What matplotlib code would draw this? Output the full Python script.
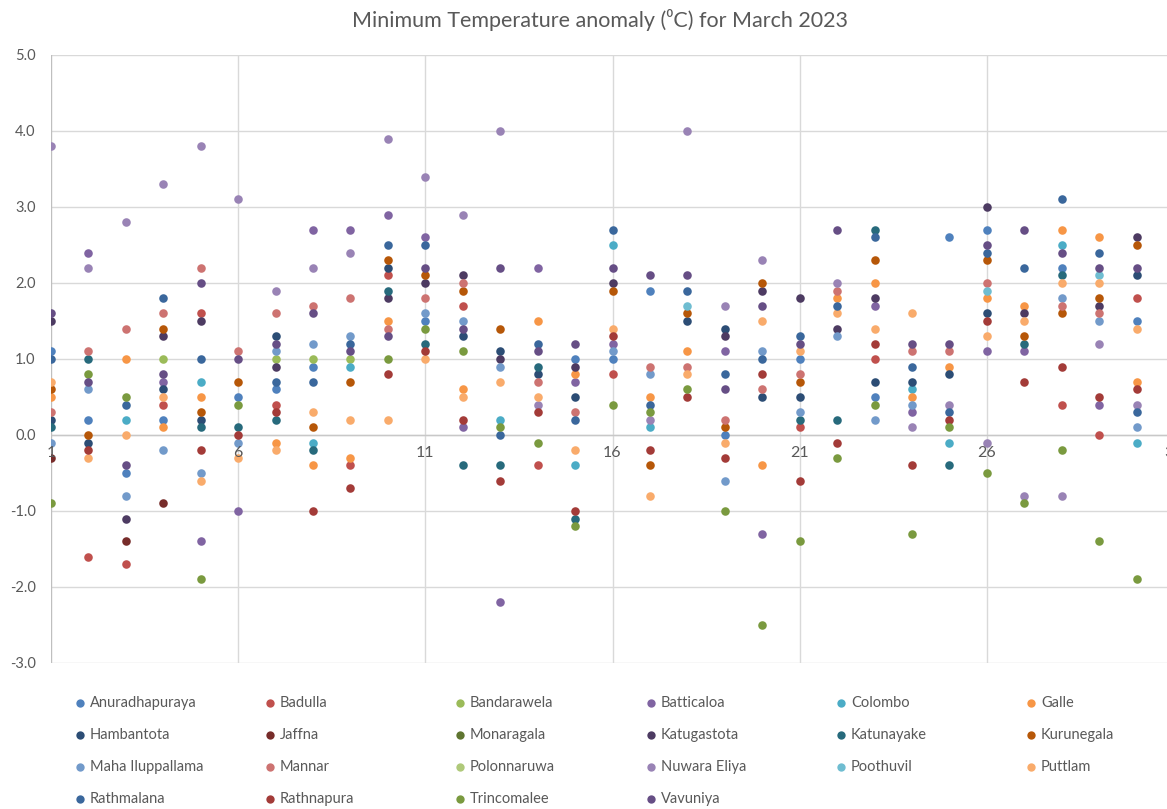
import numpy as np
import matplotlib.pyplot as plt
from matplotlib.lines import Line2D

plt.rcParams['font.family'] = ['Lato', 'DejaVu Sans']

nan = np.nan
days = np.arange(1, 31)

# anomaly (deg C) per station, days 1..30 of March 2023 (nan = hidden / not read)
anuradhapuraya = [1.1, 0.2, -0.5, 0.2, nan, 0.5, 0.6, 0.9, nan, nan, 1.5, nan, nan, nan, 1.0,
                  1.0, 1.9, nan, 0.0, nan, 1.0, nan, 0.5, nan, 2.6, 2.7, nan, 2.2, nan, 1.5]
badulla = [nan, -1.6, -1.7, 0.4, 1.6, nan, 0.4, nan, -0.4, 2.1, nan, 1.7, nan, -0.4, nan,
           0.8, nan, nan, nan, nan, 0.1, nan, 1.0, nan, nan, nan, nan, 0.4, 0.0, 1.8]
bandarawela = [nan, nan, nan, 1.0, nan, nan, 1.0, 1.0, 1.0, nan, nan, nan, nan, nan, nan,
               nan, nan, nan, nan, nan, nan, nan, nan, nan, nan, nan, nan, nan, nan, nan]
batticaloa = [nan, 2.4, nan, 0.7, -1.4, -1.0, nan, 2.7, 2.7, 2.9, 2.6, 0.1, -2.2, 2.2, 0.7,
              1.2, nan, nan, 1.1, -1.3, nan, nan, 1.7, 0.3, nan, 1.1, 1.1, nan, 0.4, nan]
colombo = [nan, nan, 0.2, nan, 0.7, nan, nan, -0.1, 0.9, nan, nan, nan, 0.2, nan, -0.4,
           2.5, 0.1, nan, nan, nan, nan, nan, nan, 0.6, -0.1, nan, nan, 2.5, nan, -0.1]
galle = [0.5, nan, 1.0, 0.1, 0.5, nan, -0.1, -0.4, -0.3, 1.5, nan, 0.6, nan, 1.5, 0.8,
         nan, 0.5, 1.1, nan, -0.4, nan, 1.8, 2.0, 0.5, 0.9, 1.8, 1.7, 2.7, 2.6, 0.7]
hambantota = [0.2, -0.1, nan, 0.6, 0.2, nan, 1.3, nan, nan, 2.2, nan, 1.3, 1.1, 0.8, 0.5,
              nan, nan, 1.5, 1.4, 0.5, 0.5, nan, 0.7, 0.7, 0.8, 1.6, nan, nan, nan, 2.1]
jaffna = [-0.3, nan, -1.4, -0.9, nan, nan, nan, nan, nan, nan, nan, nan, nan, nan, nan,
          nan, nan, nan, nan, nan, nan, nan, nan, nan, nan, nan, nan, nan, nan, nan]
monaragala = [nan] * 30
katugastota = [1.5, nan, -1.1, 1.3, 1.5, nan, 0.9, nan, nan, 1.8, 2.0, 2.1, 1.0, nan, 0.9,
               2.0, nan, nan, 1.3, 1.9, 1.8, 1.4, 1.8, nan, nan, 3.0, 1.6, nan, 1.7, 2.6]
katunayake = [0.1, 1.0, nan, nan, 0.1, 0.1, 0.2, -0.2, nan, 1.9, 1.2, -0.4, -0.4, 0.9, -1.1,
              nan, nan, nan, nan, nan, 0.2, 0.2, 2.7, nan, -0.4, nan, 1.2, 2.1, nan, nan]
kurunegala = [0.6, 0.0, nan, 1.4, 0.3, 0.7, nan, 0.1, 0.7, 2.3, 2.1, 1.9, 1.4, nan, nan,
              1.9, -0.4, 1.6, 0.1, 2.0, 0.7, nan, 2.3, nan, nan, 2.3, 1.3, 1.6, 1.8, 2.5]
maha_iluppallama = [-0.1, 0.6, -0.8, -0.2, -0.5, -0.1, 1.1, 1.2, 1.3, nan, 1.6, 1.5, 0.9, nan, nan,
                    1.1, 0.8, nan, -0.6, 1.1, 0.3, 1.3, 0.2, 0.4, nan, nan, nan, 1.8, 1.5, 0.1]
mannar = [0.3, 1.1, 1.4, 1.6, 2.2, 1.1, 1.6, 1.7, 1.8, 1.4, 1.8, 2.0, nan, 0.7, 0.3,
          nan, 0.9, 0.9, 0.2, 0.6, 0.8, 1.9, nan, 1.1, 1.1, 2.0, nan, 1.7, 1.6, nan]
polonnaruwa = [nan] * 30
nuwara_eliya = [3.8, 2.2, 2.8, 3.3, 3.8, 3.1, 1.9, 2.2, 2.4, 3.9, 3.4, 2.9, 4.0, 0.4, nan,
                nan, 0.2, 4.0, 1.7, 2.3, nan, 2.0, nan, 0.1, 0.4, -0.1, -0.8, -0.8, 1.2, 0.4]
poothuvil = [nan, nan, nan, nan, nan, nan, nan, nan, nan, nan, nan, nan, nan, nan, nan,
             nan, nan, 1.7, nan, nan, nan, nan, nan, nan, nan, 1.9, nan, nan, 2.1, nan]
puttlam = [0.7, -0.3, 0.0, 0.5, -0.6, -0.3, -0.2, 0.3, 0.2, 0.2, 1.0, 0.5, 0.7, 0.5, -0.2,
           1.4, -0.8, 0.8, -0.1, 1.5, 1.1, 1.6, 1.4, 1.6, nan, 1.3, 1.5, 2.0, 2.0, 1.4]
rathmalana = [1.0, nan, 0.4, 1.8, 1.0, nan, 0.7, 0.7, 1.2, 2.5, 2.5, nan, 0.0, 1.2, 0.2,
              2.7, 0.4, 1.9, 0.8, 1.0, 1.3, 1.7, 2.6, 0.9, 0.3, 2.4, 2.2, 3.1, 2.4, 0.3]
rathnapura = [nan, -0.2, nan, nan, -0.2, 0.0, 0.3, -1.0, -0.7, 0.8, 1.1, 0.2, -0.6, 0.3, -1.0,
              1.3, -0.2, 0.5, -0.3, 0.8, -0.6, -0.1, 1.2, -0.4, 0.2, 1.5, 0.7, 0.9, 0.5, 0.6]
trincomalee = [-0.9, 0.8, 0.5, nan, -1.9, 0.4, nan, nan, nan, 1.0, 1.4, 1.1, 0.1, -0.1, -1.2,
               0.4, 0.3, 0.6, -1.0, -2.5, -1.4, -0.3, 0.4, -1.3, 0.1, -0.5, -0.9, -0.2, -1.4, -1.9]
vavuniya = [1.6, 0.7, -0.4, 0.8, 2.0, 1.0, 1.2, 1.6, 1.1, 1.3, 2.2, 1.4, 2.2, 1.1, 1.2,
            2.2, 2.1, 2.1, 0.6, 1.7, 1.2, 2.7, nan, 1.2, 1.2, 2.5, 2.7, 2.4, 2.2, 2.2]

stations = ["Anuradhapuraya", "Badulla", "Bandarawela", "Batticaloa", "Colombo", "Galle",
            "Hambantota", "Jaffna", "Monaragala", "Katugastota", "Katunayake", "Kurunegala",
            "Maha Iluppallama", "Mannar", "Polonnaruwa", "Nuwara Eliya", "Poothuvil", "Puttlam",
            "Rathmalana", "Rathnapura", "Trincomalee", "Vavuniya"]
series = [anuradhapuraya, badulla, bandarawela, batticaloa, colombo, galle,
          hambantota, jaffna, monaragala, katugastota, katunayake, kurunegala,
          maha_iluppallama, mannar, polonnaruwa, nuwara_eliya, poothuvil, puttlam,
          rathmalana, rathnapura, trincomalee, vavuniya]
colors = ["#4F81BD", "#C0504D", "#9BBB59", "#8064A2", "#4BACC6", "#F79646",
          "#2C4D75", "#772C2A", "#5F7530", "#4D3B62", "#276A7C", "#B65708",
          "#729ACA", "#CD7371", "#AFC97A", "#9983B5", "#6FBDD1", "#F9AB6B",
          "#3A679C", "#A33B38", "#7A9A3F", "#664E85"]

fig = plt.figure(figsize=(11.67, 8.09), dpi=100)
ax = fig.add_axes([51 / 1167, 1 - 663 / 809, 1123 / 1167, 608 / 809])

for vals, c in zip(series, colors):
    ax.scatter(days, vals, s=38, color=c, linewidths=0, zorder=3)

ax.set_xlim(1, 31)
ax.set_ylim(-3, 5)
ax.set_yticks(np.arange(-3, 6, 1))
ax.set_yticklabels([f"{v:.1f}" for v in np.arange(-3, 6, 1)], fontsize=10.5, color="#595959")
ax.set_xticks([])
ax.tick_params(axis="y", length=0, pad=11)
for y in np.arange(-3, 6, 1):
    ax.axhline(y, color="#D9D9D9", lw=1, zorder=1)
for x in [6, 11, 16, 21, 26, 31]:
    ax.axvline(x, color="#D9D9D9", lw=1, zorder=1)
ax.axhline(0, color="#C8C8C8", lw=1, zorder=2)
ax.axvline(1, color="#BFBFBF", lw=1, zorder=2)
for s in ax.spines.values():
    s.set_visible(False)

# day labels sit just under the zero line, Excel style
for d in [1, 6, 11, 16, 21, 26, 31]:
    ax.annotate(str(d), (d, 0), xytext=(0, -8), textcoords="offset points",
                ha="center", va="top", fontsize=11.5, color="#595959", annotation_clip=False)

fig.text(0.514, 1 - 20 / 809, "Minimum Temperature anomaly (\u2070C) for March 2023",
         ha="center", va="center", fontsize=15.5, color="#595959")

legend_x = [80, 270, 460, 651, 841, 1031]
legend_y = [703, 735, 767, 799]
for i, name in enumerate(stations):
    col, row = i % 6, i // 6
    fx = legend_x[col] / 1167
    fy = 1 - legend_y[row] / 809
    fig.lines.append(Line2D([fx], [fy], transform=fig.transFigure, ls="", marker="o",
                            ms=6, mec="none", mfc=colors[i]))
    fig.text(fx + 10 / 1167, fy, name, ha="left", va="center", fontsize=10.5, color="#595959")

fig.savefig("out.png", dpi=100)
